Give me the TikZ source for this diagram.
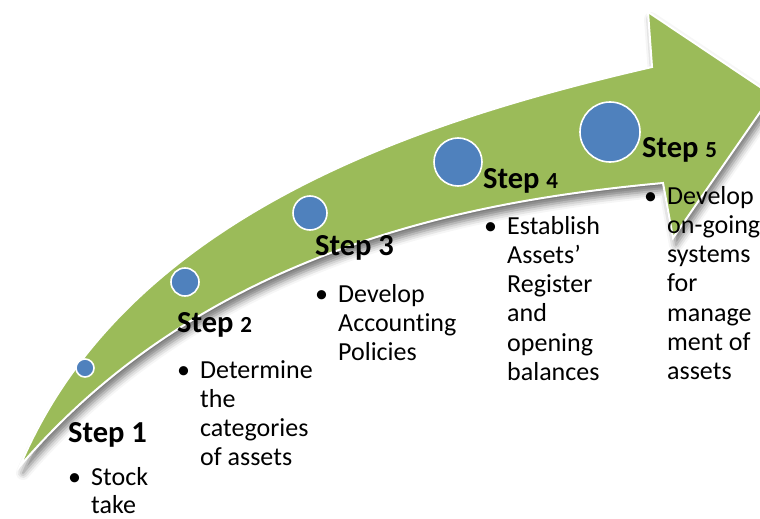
\documentclass[tikz,border=0pt]{standalone}
\usepackage{fontspec}
\setmainfont[Ligatures={NoCommon}]{Carlito}
\usetikzlibrary{shadows.blur}
\definecolor{arrgreen}{HTML}{9BBB59}
\definecolor{dotblue}{HTML}{4F81BD}
\tikzset{
  dot/.style={circle, fill=dotblue, draw=white, line width=1.6pt, inner sep=0pt},
  title/.style={anchor=base west, inner sep=0pt, font=\bfseries\fontsize{30.5}{34}\selectfont},
  body/.style={anchor=base west, inner sep=0pt, font=\fontsize{26}{30}\selectfont},
}
\newcommand{\smalldigit}[1]{{\fontsize{23}{26}\selectfont #1}}
\begin{document}
\begin{tikzpicture}[x=1pt,y=-1pt]
\useasboundingbox (0,0) rectangle (760,519);
% arrow
\fill[arrgreen, draw=white, line width=2pt, line join=miter,
  blur shadow={shadow xshift=3pt, shadow yshift=-7pt, shadow blur radius=7pt, shadow opacity=55}]
  (20,466) .. controls (126,214) and (422,120) .. (652,67)
  -- (648,12) -- (772,95) -- (673,238) -- (663,183)
  .. controls (480,200) and (210,245) .. (20,466) -- cycle;
% dots
\node[dot, minimum size=18pt] (c1) at (85,368) {};
\node[dot, minimum size=28pt] (c2) at (185,282) {};
\node[dot, minimum size=34pt] (c3) at (310,213) {};
\node[dot, minimum size=48pt] (c4) at (458,162) {};
\node[dot, minimum size=60pt] (c5) at (610,132) {};
% titles
\node[title] (t1) at (68,442) {Step 1};
\node[title] (t2) at (177,332) {Step \smalldigit{2}};
\node[title] (t3) at (315,255) {Step 3};
\node[title] (t4) at (483,188) {Step \smalldigit{4}};
\node[title] (t5) at (642,157) {Step \smalldigit{5}};
% bullets
\node[body] (b1) at (68,485) {\textbullet};
\node[body] (b2) at (177,378) {\textbullet};
\node[body] (b3) at (315,302) {\textbullet};
\node[body] (b4) at (484,234) {\textbullet};
\node[body] (b5) at (644,204) {\textbullet};
% texts
\foreach \t [count=\i] in {Stock, take}
  \node[body] (sa\i) at (91,{485+28.5*(\i-1)}) {\t};
\foreach \t [count=\i] in {Determine, the, categories, of assets}
  \node[body] (sb\i) at (200,{378+29.3*(\i-1)}) {\t};
\foreach \t [count=\i] in {Develop, Accounting, Policies}
  \node[body] (sc\i) at (338,{302+29.3*(\i-1)}) {\t};
\foreach \t [count=\i] in {Establish, Assets’, Register, and, opening, balances}
  \node[body] (sd\i) at (507,{234+29.3*(\i-1)}) {\t};
\foreach \t [count=\i] in {Develop, on-going, systems, for, manage, ment of, assets}
  \node[body] (se\i) at (667,{204+29.3*(\i-1)}) {\t};
\end{tikzpicture}
\end{document}
